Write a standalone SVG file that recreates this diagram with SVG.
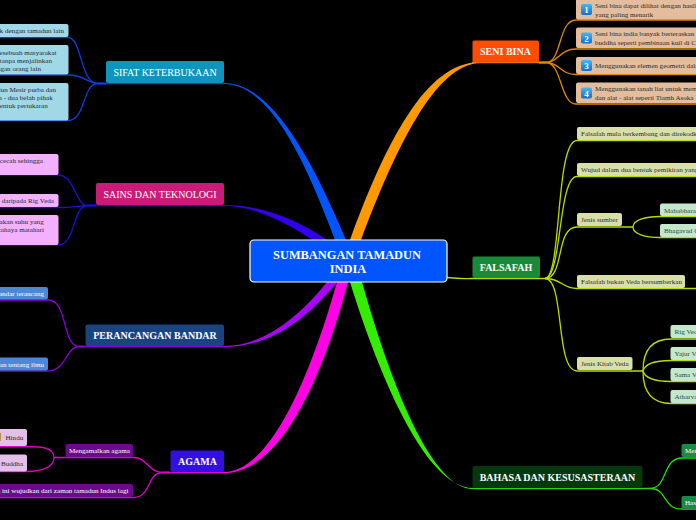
<svg xmlns="http://www.w3.org/2000/svg" width="696" height="520" viewBox="0 0 696 520">
<defs>
<linearGradient id="ic" x1="0" y1="0" x2="0" y2="1"><stop offset="0" stop-color="#4fb4f0"/><stop offset="1" stop-color="#0c6fd0"/></linearGradient>
</defs>
<style>
text{font-family:"Liberation Serif","DejaVu Serif",serif}
.c{font-size:12.400px;font-weight:700;fill:#fff;text-anchor:middle}
.m{font-size:10px;font-weight:700;fill:#fff;text-anchor:middle}
.n{font-size:10px;fill:#fff;text-anchor:middle}
.s{font-size:7.100px;fill:#2b2b2b}
.e{text-anchor:end}
.w{fill:#fff}
.g{fill:#2f4a3a}
.l{fill:none;stroke-width:1.300}
.i{fill:#fff;font-size:9px;font-weight:700;text-anchor:middle}
</style>
<rect width="696" height="520" fill="#000"/>
<g id="connectors">
<path d="M224 83C262 83 300 130 346 240L335 240C305 160 270 84 224 84Z" fill="#0055ff"/>
<path d="M350 240C385 145 425 62 480 62L480 63C435 64 395 150 361 240Z" fill="#ff9900"/>
<path d="M224 205C260 205 295 218 327 240L313 240C285 222 255 206 224 206Z" fill="#3300ee"/>
<path d="M224 346C260 346 295 322 327 282L337 282C300 328 262 347 224 347Z" fill="#aa00ff"/>
<path d="M224 472C265 472 305 395 337 282L348 282C318 395 275 473 224 473Z" fill="#ff00e6"/>
<path d="M350 282C382 385 428 488 473 488L473 489C434 489 394 395 362 282Z" fill="#33ee00"/>
<path d="M447 277.500C460 279 465 278.500 472 278.500" class="l" stroke="#bbdd00"/>
<g class="l" stroke="#0a3fe0">
<path d="M106 83.500H98C80 83.500 82 37.500 68 37.500H-2"/>
<path d="M106 83.500H98C88 83.500 85 75 68 75H-2"/>
<path d="M106 83.500H98C82 83.500 86 120.500 68 120.500H-2"/>
<path d="M98 83.500H224"/>
</g>
<g class="l" stroke="#1c0fd8">
<path d="M96 205.500H88C75 205.500 75 175 58 175H-2"/>
<path d="M96 205.500H88C78 205.500 75 207.500 58 207.500H-2"/>
<path d="M96 205.500H88C72 205.500 76 245 58 245H-2"/>
<path d="M88 205.500H224"/>
</g>
<g class="l" stroke="#8a00d8">
<path d="M85 346.500H79C62 346.500 68 300 48 300H-2"/>
<path d="M85 346.500H79C66 346.500 66 371 48 371H-2"/>
<path d="M79 346.500H224"/>
</g>
<g class="l" stroke="#e000c8">
<path d="M170 472.500H163C148 472.500 148 457.500 133 457.500H65H54"/>
<path d="M170 472.500H163C146 472.500 152 497.500 133 497.500H-2"/>
<path d="M163 472.500H224"/>
<path d="M54 457.500C54 447 40 446.500 27 446.500H-2"/>
<path d="M54 457.500C54 468 40 471.500 27 471.500H-2"/>
</g>
<g class="l" stroke="#e08a00">
<path d="M539 62.500H546C562 62.500 558 20 576 20H698"/>
<path d="M539 62.500H546C558 62.500 560 49 576 49H698"/>
<path d="M539 62.500H546C560 62.500 560 74.500 576 74.500H698"/>
<path d="M539 62.500H546C562 62.500 560 104 576 104H698"/>
<path d="M472 62.500H546"/>
</g>
<g class="l" stroke="#b8dc00">
<path d="M472 278.500H545"/>
<path d="M545 278.500C562 278 555 140.500 577 140.500H698"/>
<path d="M545 278.500C562 278 558 176.500 577 176.500H698"/>
<path d="M545 278.500C565 278 555 227 577 227H633"/>
<path d="M545 278.500C562 278.500 562 288.500 577 288.500H698"/>
<path d="M545 278.500C565 278.500 555 371 577 371H643"/>
<path d="M633 227C633 220 645 216.500 660 216.500H698"/>
<path d="M633 227C633 234 645 237.500 660 237.500H698"/>
<path d="M643 371C643 350 652 339 671 339H698"/>
<path d="M643 371C645 363 655 360.500 671 360.500H698"/>
<path d="M643 371C645 378 655 381.500 671 381.500H698"/>
<path d="M643 371C643 392 652 403.500 671 403.500H698"/>
</g>
<g class="l" stroke="#22dd00">
<path d="M472 488.500H650C668 488.500 662 458 682 458H698"/>
<path d="M650 488.500C668 488.500 662 509 682 509H698"/>
</g>
</g>
<g id="center"><rect x="250" y="240" width="197" height="42" rx="4" fill="#0055ff" stroke="#fff" stroke-width="1.200"/>
<text class="c" x="347" y="259">SUMBANGAN TAMADUN</text><text class="c" x="348" y="273">INDIA</text></g>
<g id="sifat"><rect x="106" y="61" width="118" height="22" rx="2" fill="#0f94bd"/><text class="n" x="165" y="75.500">SIFAT KETERBUKAAN</text></g>
<g id="sifat1"><rect x="-6" y="24" width="74.500" height="13" rx="2" fill="#a0d8e8"/><text class="s e" x="64" y="32.500">k dengan tamadun lain</text></g>
<g id="sifat2"><rect x="-6" y="45" width="74.500" height="29.500" rx="2" fill="#a0d8e8"/><text class="s e" x="56.500" y="54.500">esebuah masyarakat</text><text class="s e" x="52" y="62.500">tanpa menjalinkan</text><text class="s e" x="41" y="70.500">ngan orang lain</text></g>
<g id="sifat3"><rect x="-6" y="83" width="74.500" height="37.500" rx="2" fill="#a0d8e8"/><text class="s e" x="56" y="91.500">dun Mesir purba dan</text><text class="s e" x="52.700" y="99.500">a - dua belah pihak</text><text class="s e" x="47.700" y="107.500">entuk pertukaran</text></g>
<g id="sains"><rect x="96" y="183" width="128" height="22" rx="2" fill="#cc1a78"/><text class="n" x="160" y="197.500">SAINS DAN TEKNOLOGI</text></g>
<g id="sains1"><rect x="-6" y="154" width="64.500" height="21" rx="2" fill="#f2b0ff"/><text class="s e" x="43" y="162.500">acecah sehingga</text></g>
<g id="sains2"><rect x="-6" y="194" width="64.500" height="13" rx="2" fill="#f2b0ff"/><text class="s e" x="54" y="203">t daripada Rig Veda</text></g>
<g id="sains3"><rect x="-6" y="215" width="64.500" height="30" rx="2" fill="#f2b0ff"/><text class="s e" x="43.700" y="224">akan suhu yang</text><text class="s e" x="44" y="232">cahaya matahari</text></g>
<g id="bandar"><rect x="85.500" y="324.500" width="138.500" height="21.500" rx="2" fill="#1a4480"/><text class="m" x="155" y="338.500">PERANCANGAN BANDAR</text></g>
<g id="bandar1"><rect x="-6" y="287" width="54" height="12.500" rx="2" fill="#4a88d8"/><text class="s w e" x="44" y="295.500">andar terancang</text></g>
<g id="bandar2"><rect x="-6" y="357.500" width="54" height="13" rx="2" fill="#4a88d8"/><text class="s w e" x="44" y="366.500">an tentang ilmu</text></g>
<g id="agama"><rect x="170.500" y="450.500" width="53.500" height="21.500" rx="2" fill="#3410e0"/><text class="m" x="197.500" y="464.500">AGAMA</text></g>
<g id="amal"><rect x="65.500" y="444" width="67.500" height="13" rx="2" fill="#6a0a8c"/><text class="s w" x="69" y="452.500">Mengamalkan agama</text></g>
<g id="wujud"><rect x="-6" y="484" width="139" height="13" rx="2" fill="#6a0a8c"/><text class="s w e" x="128.500" y="492.500">u ini wujudkan dari zaman tamadun Indus lagi</text></g>
<g id="hindu"><rect x="-6" y="429" width="33" height="17" rx="2" fill="#e2c0e8"/><rect x="-3" y="433" width="4" height="8" fill="#b89050"/><text class="s" x="5.500" y="439.500">Hindu</text></g>
<g id="buddha"><rect x="-6" y="454.500" width="33" height="17" rx="2" fill="#e2c0e8"/><text class="s" x="1" y="465.500">Buddha</text></g>
<g id="seni"><rect x="472.500" y="40.500" width="66.500" height="22" rx="2" fill="#ff4d00"/><text class="m" x="505.500" y="55">SENI BINA</text></g>
<g id="seni1"><rect x="576" y="-4" width="124" height="23.500" rx="2" fill="#e3bd9e"/><rect x="581" y="4" width="11" height="11" rx="2" fill="url(#ic)"/><text class="i" x="586.500" y="13">1</text><text class="s" x="595" y="8">Seni bina dapat dilihat dengan hasil</text><text class="s" x="595" y="16.500">yang paling menarik</text></g>
<g id="seni2"><rect x="576" y="27.500" width="124" height="20.500" rx="2" fill="#e3bd9e"/><rect x="581" y="32.500" width="11" height="11" rx="2" fill="url(#ic)"/><text class="i" x="586.500" y="41.500">2</text><text class="s" x="595" y="36">Seni bina india banyak berteraskan a</text><text class="s" x="595" y="44.500">buddha seperti pembinaan kuil di C</text></g>
<g id="seni3"><rect x="576" y="57" width="124" height="17" rx="2" fill="#e3bd9e"/><rect x="581" y="60" width="11" height="11" rx="2" fill="url(#ic)"/><text class="i" x="586.500" y="69">3</text><text class="s" x="595" y="68">Menggunakan elemen geometri dala</text></g>
<g id="seni4"><rect x="576" y="82.500" width="124" height="20.500" rx="2" fill="#e3bd9e"/><rect x="581" y="87.500" width="11" height="11" rx="2" fill="url(#ic)"/><text class="i" x="586.500" y="96.500">4</text><text class="s" x="595" y="91">Menggunakan tanah liat untuk mem</text><text class="s" x="595" y="99.500">dan alat - alat seperti Tiamh Asoka</text></g>
<g id="falsafah"><rect x="472.500" y="256.500" width="67.500" height="21.500" rx="2" fill="#1a8a38"/><text class="m" x="506" y="271">FALSAFAH</text></g>
<g id="f1"><rect x="577" y="127" width="123" height="13" rx="2" fill="#d8e0a8"/><text class="s" x="581" y="136">Falsafah mula berkembang dan direkodk</text></g>
<g id="f2"><rect x="577" y="163" width="123" height="13" rx="2" fill="#d8e0a8"/><text class="s" x="581" y="172">Wujud dalam dua bentuk pemikiran yang</text></g>
<g id="f3"><rect x="577" y="213" width="45" height="13" rx="2" fill="#d8e0a8"/><text class="s" x="581" y="222">Jenis sumber</text></g>
<g id="f3a"><rect x="660" y="203.500" width="40" height="12.500" rx="2" fill="#c4e8cc"/><text class="s g" x="664" y="212.500">Mahabhara</text></g>
<g id="f3b"><rect x="660" y="224" width="40" height="13" rx="2" fill="#c4e8cc"/><text class="s g" x="664" y="233">Bhagavad G</text></g>
<g id="f4"><rect x="577" y="275" width="108" height="13" rx="2" fill="#d8e0a8"/><text class="s" x="581" y="284">Falsafah bukan Veda bersumberkan</text></g>
<g id="f5"><rect x="577" y="357" width="55.500" height="13" rx="2" fill="#d8e0a8"/><text class="s" x="581" y="366">Jenis Kitab Veda</text></g>
<g id="v1"><rect x="670.500" y="325" width="30" height="13" rx="2" fill="#c4e8cc"/><text class="s g" x="674.500" y="334">Rig Ved</text></g>
<g id="v2"><rect x="670.500" y="347" width="30" height="13" rx="2" fill="#c4e8cc"/><text class="s g" x="674.500" y="356">Yajur V</text></g>
<g id="v3"><rect x="670.500" y="368" width="30" height="13" rx="2" fill="#c4e8cc"/><text class="s g" x="674.500" y="377">Sama V</text></g>
<g id="v4"><rect x="670.500" y="390" width="30" height="13" rx="2" fill="#c4e8cc"/><text class="s g" x="674.500" y="399">Atharva</text></g>
<g id="bahasa"><rect x="472.500" y="466" width="170" height="22" rx="2" fill="#06380f"/><text class="m" x="557.500" y="480.500">BAHASA DAN KESUSASTERAAN</text></g>
<g id="b1"><rect x="681.500" y="444" width="20" height="13" rx="2" fill="#1a8a48"/><text class="s w" x="685" y="453">Men</text></g>
<g id="b2"><rect x="681.500" y="496" width="20" height="13" rx="2" fill="#1a8a48"/><text class="s w" x="685" y="505">Has</text></g>
</svg>
